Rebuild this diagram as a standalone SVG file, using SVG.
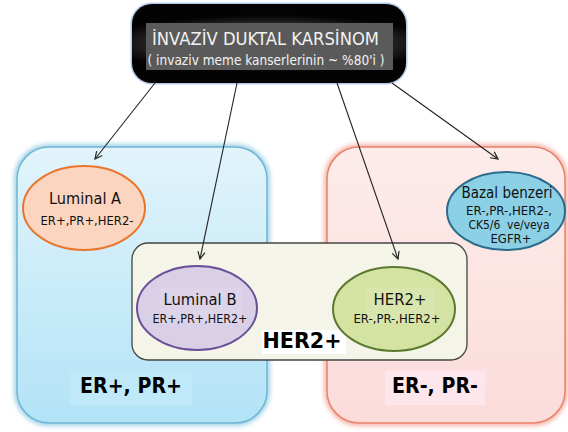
<svg xmlns="http://www.w3.org/2000/svg" width="568" height="432" viewBox="0 0 568 432">
<defs>
<radialGradient id="gTop" cx="0.5" cy="0.5" r="0.6" gradientTransform="translate(0.5 0.5) scale(1 0.6) translate(-0.5 -0.5)">
<stop offset="0" stop-color="#8a8a8a"/><stop offset="0.55" stop-color="#3a3a3a"/><stop offset="1" stop-color="#030303"/>
</radialGradient>
<linearGradient id="gBlue" x1="0" y1="0" x2="0" y2="1"><stop offset="0" stop-color="#e2f4fb"/><stop offset="1" stop-color="#b2e3f7"/></linearGradient>
<linearGradient id="gPink" x1="0" y1="0" x2="0" y2="1"><stop offset="0" stop-color="#fdecea"/><stop offset="1" stop-color="#fbdcdb"/></linearGradient>
<filter id="glow" x="-10%" y="-10%" width="120%" height="120%"><feGaussianBlur stdDeviation="2.5"/></filter>
<marker id="arr" viewBox="0 0 10 10" refX="9" refY="5" markerWidth="9" markerHeight="9" orient="auto" markerUnits="userSpaceOnUse">
<path d="M1,1 L9,5 L1,9" fill="none" stroke="#222" stroke-width="1.3"/>
</marker>
</defs>
<style>
text{font-family:"DejaVu Sans","Liberation Sans",sans-serif;text-anchor:middle;fill:#111}
.t1{font-size:15.5px}
.t2{font-size:12px}
.big{font-size:22px;font-weight:bold;fill:#000}
.lnk{stroke:#222;stroke-width:1.1;fill:none;marker-end:url(#arr)}
</style>
<rect width="568" height="432" fill="#fff"/>

<g id="erpr-pos">
<rect x="17" y="147" width="250" height="276" rx="32" fill="none" stroke="#8cc9e2" stroke-width="5" filter="url(#glow)"/>
<rect x="17" y="147" width="250" height="276" rx="32" fill="url(#gBlue)" stroke="#6fb6d3" stroke-width="1.5"/>
<rect x="70" y="371" width="122" height="34" fill="#bfe9f9"/>
<text class="big" x="131" y="393" textLength="102" lengthAdjust="spacingAndGlyphs">ER+, PR+</text>
</g>

<g id="erpr-neg">
<rect x="327" y="147" width="238" height="276" rx="32" fill="none" stroke="#f2a596" stroke-width="5" filter="url(#glow)"/>
<rect x="327" y="147" width="238" height="276" rx="32" fill="url(#gPink)" stroke="#e8826e" stroke-width="1.5"/>
<rect x="385" y="371" width="100" height="34" fill="#fde6ec"/>
<text class="big" x="435" y="393" textLength="86" lengthAdjust="spacingAndGlyphs">ER-, PR-</text>
</g>

<g id="her2-group">
<rect x="132" y="243" width="335" height="117" rx="16" fill="#f4f4e8" stroke="#444" stroke-width="1.3"/>
<rect x="262" y="330" width="84" height="24" fill="#fff"/>
<text class="big" x="302" y="348" textLength="79" lengthAdjust="spacingAndGlyphs">HER2+</text>
</g>

<g id="top">
<rect x="132" y="4" width="274" height="79" rx="20" fill="none" stroke="#b4cbe8" stroke-width="3"/>
<rect x="132" y="4" width="274" height="79" rx="20" fill="url(#gTop)"/>
<rect x="146" y="23" width="247" height="47" fill="#5a5a5a"/>
<text x="265.5" y="45" style="font-size:18px;fill:#f2f2f2" textLength="227" lengthAdjust="spacingAndGlyphs">İNVAZİV DUKTAL KARSİNOM</text>
<text x="266" y="65" style="font-size:14px;fill:#f2f2f2" textLength="237" lengthAdjust="spacingAndGlyphs">( invaziv meme kanserlerinin ~ %80'i )</text>
</g>

<g id="luminal-a">
<ellipse cx="84" cy="208" rx="61" ry="42" fill="#fbd5c0" stroke="#e8762f" stroke-width="2"/>
<text class="t1" x="85" y="204" textLength="72" lengthAdjust="spacingAndGlyphs">Luminal A</text>
<text class="t2" x="87" y="225" textLength="93" lengthAdjust="spacingAndGlyphs">ER+,PR+,HER2-</text>
</g>

<g id="bazal">
<ellipse cx="506" cy="211" rx="59" ry="39" fill="#8bd0e4" stroke="#2c6c8c" stroke-width="2"/>
<text x="507" y="198" style="font-size:16px" textLength="91" lengthAdjust="spacingAndGlyphs">Bazal benzeri</text>
<text class="t2" x="509" y="215" textLength="86" lengthAdjust="spacingAndGlyphs">ER-,PR-,HER2-,</text>
<text class="t2" x="509" y="229" textLength="81" lengthAdjust="spacingAndGlyphs" xml:space="preserve">CK5/6  ve/veya</text>
<text class="t2" x="511" y="243" textLength="41" lengthAdjust="spacingAndGlyphs">EGFR+</text>
</g>

<g id="luminal-b">
<ellipse cx="197" cy="308" rx="60" ry="42" fill="#d9cfe6" stroke="#6a4f98" stroke-width="2"/>
<rect x="160" y="288" width="82" height="36" fill="#ddd4ea"/>
<text class="t1" x="200" y="305" textLength="73" lengthAdjust="spacingAndGlyphs">Luminal B</text>
<text class="t2" x="200" y="323" textLength="95" lengthAdjust="spacingAndGlyphs">ER+,PR+,HER2+</text>
</g>

<g id="her2">
<ellipse cx="394" cy="309" rx="61" ry="42" fill="#d4e2a2" stroke="#5c7a2f" stroke-width="2"/>
<rect x="365" y="288" width="70" height="36" fill="#d8e6ae"/>
<text class="t1" x="400" y="305" textLength="53" lengthAdjust="spacingAndGlyphs">HER2+</text>
<text class="t2" x="397" y="323" textLength="87" lengthAdjust="spacingAndGlyphs">ER-,PR-,HER2+</text>
</g>

<g id="connectors">
<line class="lnk" x1="155" y1="83" x2="95" y2="159"/>
<line class="lnk" x1="237" y1="83" x2="200" y2="259"/>
<line class="lnk" x1="337" y1="83" x2="398" y2="259"/>
<line class="lnk" x1="392" y1="83" x2="498" y2="159"/>
</g>
</svg>
